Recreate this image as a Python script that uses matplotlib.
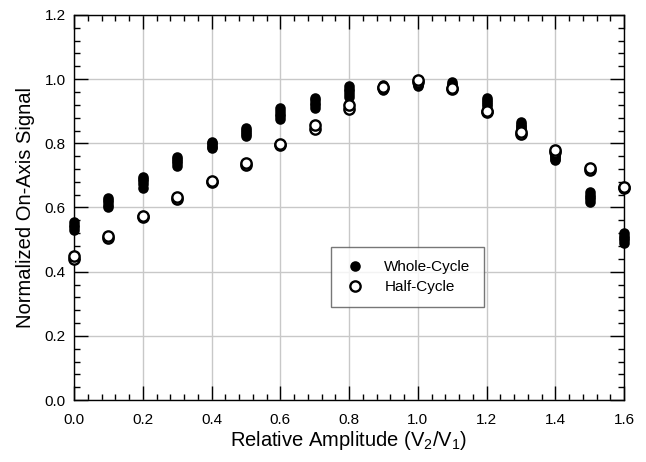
import matplotlib
matplotlib.use("Agg")
import matplotlib.pyplot as plt
from matplotlib.ticker import MultipleLocator
import numpy as np

plt.rcParams['font.family'] = ['Liberation Sans', 'DejaVu Sans']
plt.rcParams['mathtext.fontset'] = 'custom'
plt.rcParams['mathtext.rm'] = 'Liberation Sans'
plt.rcParams['mathtext.it'] = 'Liberation Sans'

# Relative amplitude positions
x_vals = [0.0, 0.1, 0.2, 0.3, 0.4, 0.5, 0.6, 0.7, 0.8, 0.9, 1.0, 1.1, 1.2, 1.3, 1.4, 1.5, 1.6]

# Whole-cycle: several repeated measurements per amplitude
whole_cycle = [
    [0.530, 0.538, 0.546, 0.554, 0.440],
    [0.600, 0.608, 0.616, 0.624, 0.630],
    [0.662, 0.672, 0.682, 0.690, 0.696],
    [0.730, 0.738, 0.746, 0.752, 0.758],
    [0.785, 0.790, 0.796, 0.800, 0.804],
    [0.822, 0.830, 0.836, 0.842, 0.848],
    [0.876, 0.884, 0.892, 0.900, 0.910],
    [0.910, 0.918, 0.926, 0.934, 0.940],
    [0.945, 0.955, 0.963, 0.970, 0.978],
    [0.965, 0.970, 0.975, 0.978, 0.982],
    [0.978, 0.982, 0.986, 0.990, 0.994],
    [0.972, 0.978, 0.982, 0.986, 0.990],
    [0.915, 0.922, 0.928, 0.935, 0.941],
    [0.845, 0.850, 0.855, 0.860, 0.866],
    [0.748, 0.752, 0.756, 0.760, 0.764],
    [0.617, 0.625, 0.633, 0.640, 0.648],
    [0.490, 0.498, 0.505, 0.512, 0.520],
]

# Half-cycle: two measurements per amplitude
half_cycle = [
    [0.440, 0.448],
    [0.506, 0.510],
    [0.570, 0.574],
    [0.625, 0.632],
    [0.678, 0.684],
    [0.733, 0.738],
    [0.794, 0.799],
    [0.846, 0.856],
    [0.908, 0.918],
    [0.972, 0.976],
    [0.992, 0.996],
    [0.968, 0.972],
    [0.898, 0.902],
    [0.830, 0.834],
    [0.774, 0.779],
    [0.718, 0.724],
    [0.660, 0.665],
]

x_ticks = [0.0, 0.2, 0.4, 0.6, 0.8, 1.0, 1.2, 1.4, 1.6]
y_ticks = [0.0, 0.2, 0.4, 0.6, 0.8, 1.0, 1.2]

fig = plt.figure(figsize=(6.46, 4.62), dpi=100)
ax = fig.add_axes([74/646, 1-400/462, 550/646, 385/462])

wx, wy = [], []
for xv, ys in zip(x_vals, whole_cycle):
    for yv in ys:
        wx.append(xv); wy.append(yv)
hx, hy = [], []
for xv, ys in zip(x_vals, half_cycle):
    for yv in ys:
        hx.append(xv); hy.append(yv)

ax.plot(wx, wy, 'o', color='black', markersize=7.6, markeredgewidth=0,
        label='Whole-Cycle', clip_on=False, zorder=3)
ax.plot(hx, hy, 'o', markerfacecolor='white', markeredgecolor='black',
        markersize=7.4, markeredgewidth=1.7, label='Half-Cycle', clip_on=False, zorder=4)

ax.set_xlim(0, 1.6)
ax.set_ylim(0, 1.2)
ax.set_xticks(x_ticks)
ax.set_yticks(y_ticks)
ax.set_xticklabels([f"{v:.1f}" for v in x_ticks])
ax.set_yticklabels([f"{v:.1f}" for v in y_ticks])
ax.xaxis.set_minor_locator(MultipleLocator(0.04))
ax.yaxis.set_minor_locator(MultipleLocator(0.04))
ax.tick_params(which='both', direction='in', top=True, right=True, labelsize=11, color='black')
ax.tick_params(axis='x', which='major', length=10, width=1, pad=9)
ax.tick_params(axis='y', which='major', length=10, width=1, pad=6)
ax.tick_params(which='minor', length=4, width=1)
ax.grid(True, which='major', color='#c8c8c8', linewidth=1)
ax.set_axisbelow(True)
for s in ax.spines.values():
    s.set_linewidth(1)
    s.set_color('black')

ax.set_xlabel('Relative Amplitude (V$_2$/V$_1$)', fontsize=14.5, labelpad=2)
ax.set_ylabel('Normalized On-Axis Signal', fontsize=14.5, labelpad=7)

leg = ax.legend(loc='upper left', bbox_to_anchor=(0.467, 0.397), borderaxespad=0,
                frameon=True, fancybox=False, edgecolor='#555555', fontsize=11,
                handletextpad=1.15, borderpad=0.85, labelspacing=0.4, handlelength=1.5)
leg.get_frame().set_linewidth(1)

fig.savefig('out.png', dpi=100)
